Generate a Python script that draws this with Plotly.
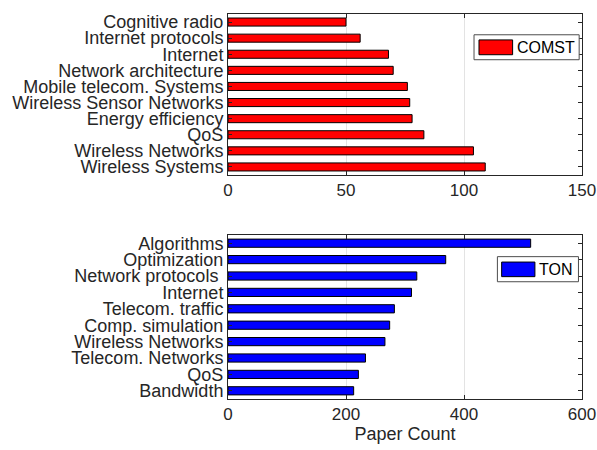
import plotly.graph_objects as go

comst_topics = ["Cognitive radio", "Internet protocols", "Internet", "Network architecture",
                "Mobile telecom. Systems", "Wireless Sensor Networks", "Energy efficiency",
                "QoS", "Wireless Networks", "Wireless Systems"]
comst_counts = [50, 56, 68, 70, 76, 77, 78, 83, 104, 109]

ton_topics = ["Algorithms", "Optimization", "Network protocols ", "Internet", "Telecom. traffic",
              "Comp. simulation", "Wireless Networks", "Telecom. Networks", "QoS", "Bandwidth"]
ton_counts = [513, 369, 320, 311, 282, 274, 266, 233, 221, 213]

comst_ticks = [0, 50, 100, 150]
ton_ticks = [0, 200, 400, 600]

FONT = "Liberation Sans, Arial, Helvetica, sans-serif"
TXT = "#262626"
COMST_COLOR = "#ff0000"
TON_COLOR = "#0000ff"

fig = go.Figure()
fig.add_trace(go.Bar(y=comst_topics, x=comst_counts, orientation="h", name="COMST",
                     marker=dict(color=COMST_COLOR, line=dict(color="#000000", width=1)),
                     width=0.5, xaxis="x", yaxis="y", showlegend=False))
fig.add_trace(go.Bar(y=ton_topics, x=ton_counts, orientation="h", name="TON",
                     marker=dict(color=TON_COLOR, line=dict(color="#000000", width=1)),
                     width=0.5, xaxis="x2", yaxis="y2", showlegend=False))

W, H = 597, 450
L, R, T, B = 228, 15, 14, 51
top_y0 = 1 - (175 - T) / (H - T - B)
bot_y1 = 1 - (235 - T) / (H - T - B)

axis_common = dict(showline=True, linecolor=TXT, linewidth=1, mirror="ticks",
                   ticks="inside", ticklen=4, tickcolor=TXT, automargin=False,
                   tickfont=dict(family=FONT, size=17, color=TXT), zeroline=False)
yfont = dict(family=FONT, size=18, color=TXT)

# legend boxes drawn in each subplot's domain coordinates
legends = [
    dict(name="COMST", color=COMST_COLOR, xr="x domain", yr="y domain",
         box=(0.695, 0.716, 0.992, 0.871), sw=(0.709, 0.747, 0.804, 0.839), tx=(0.811, 0.794)),
    dict(name="TON", color=TON_COLOR, xr="x2 domain", yr="y2 domain",
         box=(0.761, 0.715, 0.990, 0.868), sw=(0.773, 0.746, 0.867, 0.835), tx=(0.873, 0.791)),
]
shapes, annotations = [], []
for lg in legends:
    bx, sw, tx = lg["box"], lg["sw"], lg["tx"]
    shapes.append(dict(type="rect", xref=lg["xr"], yref=lg["yr"], x0=bx[0], y0=bx[1], x1=bx[2], y1=bx[3],
                       line=dict(color="#4d4d4d", width=1), fillcolor="white", layer="above"))
    shapes.append(dict(type="rect", xref=lg["xr"], yref=lg["yr"], x0=sw[0], y0=sw[1], x1=sw[2], y1=sw[3],
                       line=dict(color="#000000", width=1), fillcolor=lg["color"], layer="above"))
    annotations.append(dict(text=lg["name"], xref=lg["xr"], yref=lg["yr"], x=tx[0], y=tx[1],
                            xanchor="left", yanchor="middle", showarrow=False,
                            font=dict(family=FONT, size=16, color="#000000")))

fig.update_layout(
    width=W, height=H,
    margin=dict(l=L, r=R, t=T, b=B),
    paper_bgcolor="white", plot_bgcolor="white",
    font=dict(family=FONT, size=17, color=TXT),
    showlegend=False,
    xaxis=dict(domain=[0, 1], anchor="y", range=[0, 150], tickmode="array", tickvals=comst_ticks,
               showgrid=True, gridcolor="#e3e3e3", gridwidth=1, **axis_common),
    yaxis=dict(domain=[top_y0, 1], anchor="x", type="category",
               categoryorder="array", categoryarray=comst_topics,
               tickmode="array", tickvals=comst_topics, ticktext=comst_topics,
               autorange=False, range=[9.5, -0.5], showgrid=False,
               **{**axis_common, "tickfont": yfont}),
    xaxis2=dict(domain=[0, 1], anchor="y2", range=[0, 600], tickmode="array", tickvals=ton_ticks,
                showgrid=True, gridcolor="#e3e3e3", gridwidth=1,
                title=dict(text="Paper Count", font=dict(family=FONT, size=18, color=TXT), standoff=2),
                **axis_common),
    yaxis2=dict(domain=[0, bot_y1], anchor="x2", type="category",
                categoryorder="array", categoryarray=ton_topics,
                tickmode="array", tickvals=ton_topics, ticktext=ton_topics,
                autorange=False, range=[9.5, -0.5], showgrid=False,
                **{**axis_common, "tickfont": yfont}),
    shapes=shapes,
    annotations=annotations,
)

fig.write_html("out.html", config={"displayModeBar": False},
               post_script="document.body.style.margin='0';")
